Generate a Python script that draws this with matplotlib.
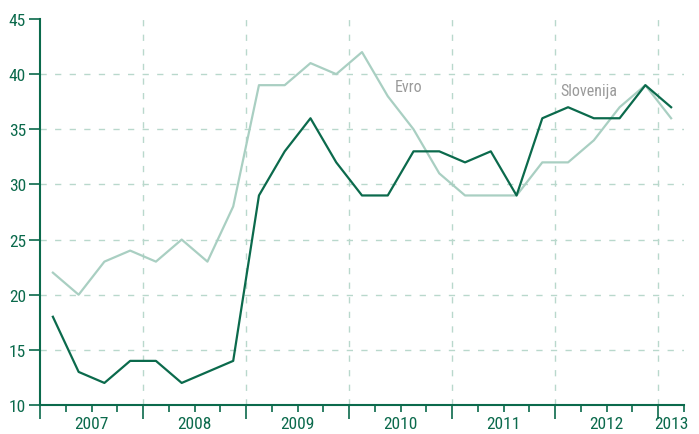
import matplotlib.pyplot as plt
import numpy as np

# quarterly data 2007Q1 - 2013Q1
slovenija = [18, 13, 12, 14, 14, 12, 13, 14, 29, 33, 36, 32, 29, 29, 33, 33, 32, 33, 29, 36, 37, 36, 36, 39, 37]
evro = [22, 20, 23, 24, 23, 25, 23, 28, 39, 39, 41, 40, 42, 38, 35, 31, 29, 29, 29, 32, 32, 34, 37, 39, 36]
years = ['2007', '2008', '2009', '2010', '2011', '2012', '2013']

dark = '#0b6a4c'
light = '#a9cfc2'
grid_c = '#b9d8cc'

plt.rcParams['font.family'] = ['Liberation Sans Narrow', 'DejaVu Sans Condensed', 'Roboto Condensed', 'DejaVu Sans']

fig = plt.figure(figsize=(6.99, 4.35), dpi=100)
ax = fig.add_axes([40/699, 1-406/435, 644/699, 386/435])

x = np.arange(len(slovenija)) + 0.5
ax.plot(x, evro, color=light, lw=1.6, zorder=3)
ax.plot(x, slovenija, color=dark, lw=1.6, zorder=4)

ax.set_xlim(0, 25)
ax.set_ylim(10, 45)

# mreza
for yv in range(15, 45, 5):
    ax.axhline(yv, color=grid_c, lw=1, linestyle=(0, (4.5, 6)), zorder=1)
for xv in range(4, 25, 4):
    ax.axvline(xv, color=grid_c, lw=1, linestyle=(0, (4.5, 6)), zorder=1)

ax.text(13.78, 38.9, 'Evro', color='#9a9a9a', fontsize=11.5, va='center', ha='left')
ax.text(20.2, 38.5, 'Slovenija', color='#9a9a9a', fontsize=11.5, va='center', ha='left')

for s in ['top', 'right']:
    ax.spines[s].set_visible(False)
for s in ['left', 'bottom']:
    ax.spines[s].set_color(dark)
    ax.spines[s].set_linewidth(1.5)

ax.set_yticks(range(10, 50, 5))
ax.tick_params(axis='y', colors=dark, labelcolor=dark, length=8, width=1.2, labelsize=12.5, pad=2)

ax.set_xticks(range(0, 26, 4))
ax.set_xticks(range(0, 26), minor=True)
ax.set_xticklabels([])
ax.tick_params(axis='x', which='major', colors=dark, length=10, width=1.2)
ax.tick_params(axis='x', which='minor', colors=dark, length=5, width=1.2)

centers = [2, 6, 10, 14, 18, 22, 24.5]
for c, lab in zip(centers, years):
    ax.text(c, -0.028, lab, transform=ax.get_xaxis_transform(), ha='center', va='top',
            color=dark, fontsize=12.5)

fig.savefig('out.png', dpi=100)
